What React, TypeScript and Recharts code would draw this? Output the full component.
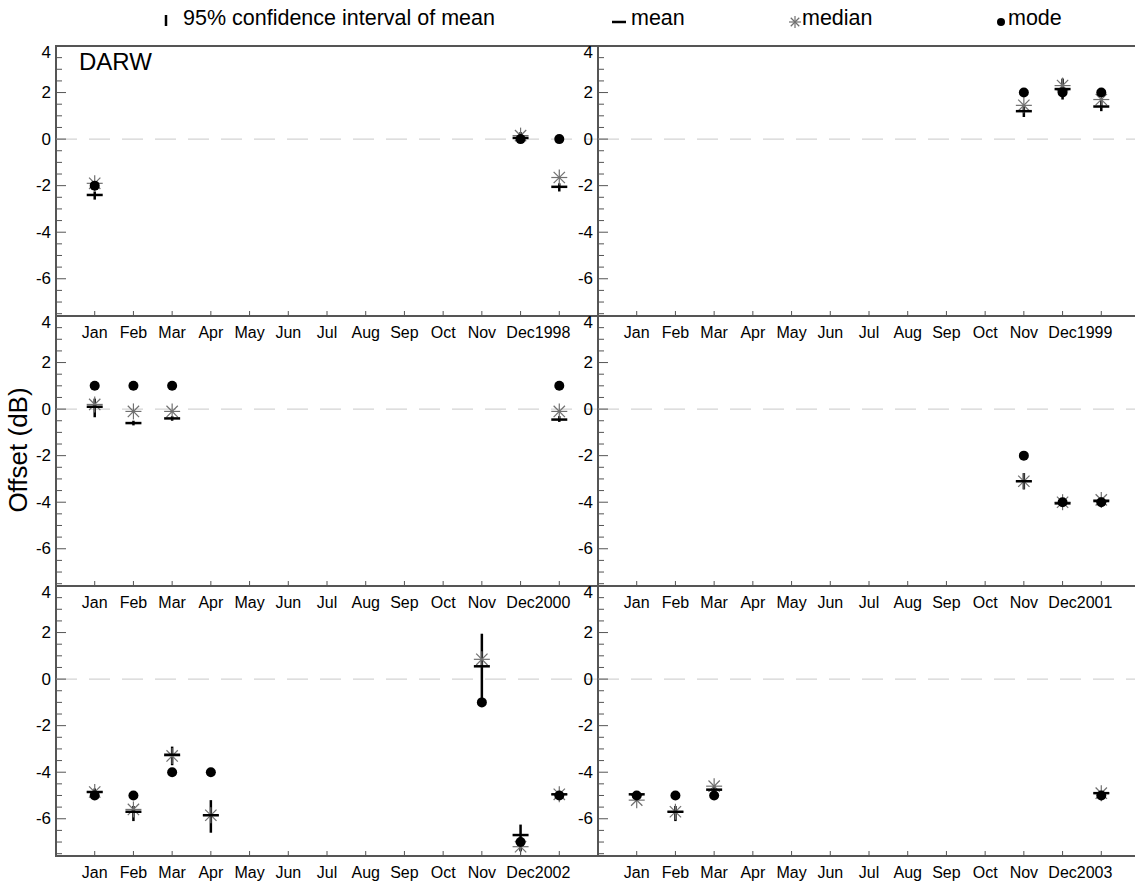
import React from 'react';
import { ComposedChart, Scatter, XAxis, YAxis, ReferenceLine, ReferenceArea, ErrorBar } from 'recharts';

const MONTHS = ['Jan', 'Feb', 'Mar', 'Apr', 'May', 'Jun', 'Jul', 'Aug', 'Sep', 'Oct', 'Nov', 'Dec'];
// positions 1..12 are months, 13 is the whole-year statistic
const X_TICKS = [1, 2, 3, 4, 5, 6, 7, 8, 9, 10, 11, 12, 13];
const Y_TICKS = [-7.5, -7, -6.5, -6, -5.5, -5, -4.5, -4, -3.5, -3, -2.5, -2, -1.5, -1, -0.5, 0, 0.5, 1, 1.5, 2, 2.5, 3, 3.5, 4];

const x1998 = [1, 12, 13];
const mean1998 = [-2.4, 0.05, -2.05];
const lo1998 = [-2.6, -0.15, -2.25];
const hi1998 = [-2.25, 0.3, -1.9];
const median1998 = [-1.9, 0.15, -1.65];
const mode1998 = [-2, 0, 0];

const x1999 = [11, 12, 13];
const mean1999 = [1.2, 2.15, 1.4];
const lo1999 = [0.95, 1.7, 1.2];
const hi1999 = [1.4, 2.6, 1.75];
const median1999 = [1.45, 2.3, 1.7];
const mode1999 = [2, 2, 2];

const x2000 = [1, 2, 3, 13];
const mean2000 = [0.1, -0.6, -0.4, -0.45];
const lo2000 = [-0.35, -0.7, -0.5, -0.55];
const hi2000 = [0.45, -0.5, -0.3, -0.3];
const median2000 = [0.2, -0.1, -0.1, -0.1];
const mode2000 = [1, 1, 1, 1];

const x2001 = [11, 12, 13];
const mean2001 = [-3.1, -4.05, -3.95];
const lo2001 = [-3.45, -4.15, -4.05];
const hi2001 = [-2.75, -3.9, -3.8];
const median2001 = [-3.1, -4.0, -3.9];
const mode2001 = [-2, -4, -4];

const x2002 = [1, 2, 3, 4, 11, 12, 13];
const mean2002 = [-4.85, -5.7, -3.25, -5.85, 0.55, -6.7, -4.95];
const lo2002 = [-4.95, -6.1, -3.7, -6.6, -0.9, -7.4, -5.05];
const hi2002 = [-4.7, -5.45, -2.9, -5.2, 1.95, -6.25, -4.85];
const median2002 = [-4.85, -5.6, -3.3, -5.85, 0.85, -7.2, -4.95];
const mode2002 = [-5, -5, -4, -4, -1, -7, -5];

const x2003 = [1, 2, 3, 13];
const mean2003 = [-4.95, -5.7, -4.75, -4.9];
const lo2003 = [-5.1, -6.1, -5.0, -5.0];
const hi2003 = [-4.85, -5.45, -4.55, -4.8];
const median2003 = [-5.2, -5.7, -4.6, -4.9];
const mode2003 = [-5, -5, -5, -5];

const FONT = '"Liberation Sans", Arial, Helvetica, sans-serif';
const AXIS = '#555';
const PLOT_W = 542;
const PLOT_H = 270;
const DIVIDER_X = 598;
const ROW_TOPS = [46, 316, 586];
const TOP_PAD = 12;

const PANELS = [
  { year: 1998, row: 0, isLeft: true, xs: x1998, mean: mean1998, lo: lo1998, hi: hi1998, median: median1998, mode: mode1998 },
  { year: 1999, row: 0, isLeft: false, xs: x1999, mean: mean1999, lo: lo1999, hi: hi1999, median: median1999, mode: mode1999 },
  { year: 2000, row: 1, isLeft: true, xs: x2000, mean: mean2000, lo: lo2000, hi: hi2000, median: median2000, mode: mode2000 },
  { year: 2001, row: 1, isLeft: false, xs: x2001, mean: mean2001, lo: lo2001, hi: hi2001, median: median2001, mode: mode2001 },
  { year: 2002, row: 2, isLeft: true, xs: x2002, mean: mean2002, lo: lo2002, hi: hi2002, median: median2002, mode: mode2002 },
  { year: 2003, row: 2, isLeft: false, xs: x2003, mean: mean2003, lo: lo2003, hi: hi2003, median: median2003, mode: mode2003 },
];

const Star = ({ cx, cy, r, color = '#707070' }: { cx: number; cy: number; r: number; color?: string }) => {
  const d = r * 0.7071;
  return (
    <g stroke={color} strokeWidth={1.2}>
      <line x1={cx - r} x2={cx + r} y1={cy} y2={cy} />
      <line x1={cx} x2={cx} y1={cy - r} y2={cy + r} />
      <line x1={cx - d} x2={cx + d} y1={cy - d} y2={cy + d} />
      <line x1={cx - d} x2={cx + d} y1={cy + d} y2={cy - d} />
    </g>
  );
};

const MedianShape = (p: any) => <Star cx={p.cx} cy={p.cy} r={8} />;
const ModeShape = (p: any) => <circle cx={p.cx} cy={p.cy} r={5} fill="#000" />;
const MeanShape = (p: any) => (
  <line x1={p.cx - 8} x2={p.cx + 8} y1={p.cy} y2={p.cy} stroke="#000" strokeWidth={2.5} />
);

const Panel = ({ panel }: { panel: typeof PANELS[number] }) => {
  const { year, row, isLeft, xs, mean, lo, hi, median, mode } = panel;
  const yAxisW = isLeft ? 56 : 40;
  const width = yAxisW + PLOT_W + (isLeft ? 2 : 0);
  const height = TOP_PAD + PLOT_H + 30;
  const left = isLeft ? 0 : DIVIDER_X - yAxisW;
  const top = ROW_TOPS[row] - TOP_PAD;
  const plotLeft = yAxisW;
  const plotBottom = TOP_PAD + PLOT_H;

  const data = xs.map((x, i) => ({
    x,
    mean: mean[i],
    err: [mean[i] - lo[i], hi[i] - mean[i]],
    median: median[i],
    mode: mode[i],
  }));

  const yTick = (props: any) => {
    const { y, payload } = props;
    const v = payload.value;
    const major = Math.abs(v % 2) < 1e-9;
    return (
      <g>
        <line x1={plotLeft} x2={plotLeft + (major ? 10 : 6)} y1={y} y2={y} stroke={AXIS} strokeWidth={1} />
        {major && (
          <text x={plotLeft - 5} y={y + (v === 4 ? 6 : 0)} textAnchor="end" dominantBaseline="central"
            fontSize={17} fontFamily={FONT} fill="#000">{v}</text>
        )}
      </g>
    );
  };

  // the year label sits right after "Dec", as in the original figure
  const xTick = (props: any) => {
    const { x, payload } = props;
    const v = payload.value;
    const isYear = v === 13;
    return (
      <g>
        <line x1={x} x2={x} y1={plotBottom} y2={plotBottom - 5} stroke={AXIS} strokeWidth={1} />
        <text x={isYear ? x - 24.5 : x} y={plotBottom + 16} textAnchor={isYear ? 'start' : 'middle'}
          dominantBaseline="central" fontSize={16} fontFamily={FONT} fill="#000">
          {isYear ? year : MONTHS[v - 1]}
        </text>
      </g>
    );
  };

  return (
    <div style={{ position: 'absolute', left, top, width, height }}>
      <ComposedChart width={width} height={height} data={data}
        margin={{ top: TOP_PAD, right: isLeft ? 2 : 0, bottom: 0, left: 0 }}>
        <XAxis dataKey="x" type="number" domain={[0, 14]} ticks={X_TICKS} interval={0}
          allowDataOverflow height={30} axisLine={false} tickLine={false} tick={xTick} />
        <YAxis type="number" domain={[-7.6, 4]} ticks={Y_TICKS} interval={0} allowDataOverflow
          width={yAxisW} axisLine={false} tickLine={false} tick={yTick} />
        <ReferenceLine y={0} stroke="#c8c8c8" strokeDasharray="21 12" strokeWidth={1} />
        <ReferenceArea x1={0} x2={14} y1={-7.6} y2={4} fill="none" fillOpacity={0}
          stroke={AXIS} strokeWidth={2} ifOverflow="visible" />
        <Scatter dataKey="median" shape={MedianShape} isAnimationActive={false} />
        <Scatter dataKey="mode" shape={ModeShape} isAnimationActive={false} />
        <Scatter dataKey="mean" shape={MeanShape} isAnimationActive={false}>
          <ErrorBar dataKey="err" direction="y" width={0} stroke="#000" strokeWidth={2.5} isAnimationActive={false} />
        </Scatter>
      </ComposedChart>
    </div>
  );
};

const Overlay = () => (
  <svg width={1135} height={891} style={{ position: 'absolute', left: 0, top: 0, pointerEvents: 'none' }}
    fontFamily={FONT}>
    {/* legend */}
    <line x1={166} x2={166} y1={15} y2={26} stroke="#000" strokeWidth={2.5} />
    <text x={183} y={18} dominantBaseline="central" fontSize={21.5}>95% confidence interval of mean</text>
    <line x1={612} x2={626} y1={22} y2={22} stroke="#000" strokeWidth={2.5} />
    <text x={631} y={18} dominantBaseline="central" fontSize={21.5}>mean</text>
    <Star cx={795} cy={22} r={6} />
    <text x={802} y={18} dominantBaseline="central" fontSize={21.5}>median</text>
    <circle cx={1001} cy={22} r={4} fill="#000" />
    <text x={1008} y={18} dominantBaseline="central" fontSize={21.5}>mode</text>
    <text x={79} y={61} dominantBaseline="central" fontSize={24}>DARW</text>
    <text x={18} y={450} transform="rotate(-90 18 450)" textAnchor="middle" dominantBaseline="central"
      fontSize={26}>Offset (dB)</text>
  </svg>
);

export default function App() {
  return (
    <div style={{ position: 'absolute', left: 0, top: 0, width: 1135, height: 891, overflow: 'hidden', background: '#fff', fontFamily: FONT }}>
      {PANELS.map((p) => (
        <Panel key={p.year} panel={p} />
      ))}
      <Overlay />
    </div>
  );
}
